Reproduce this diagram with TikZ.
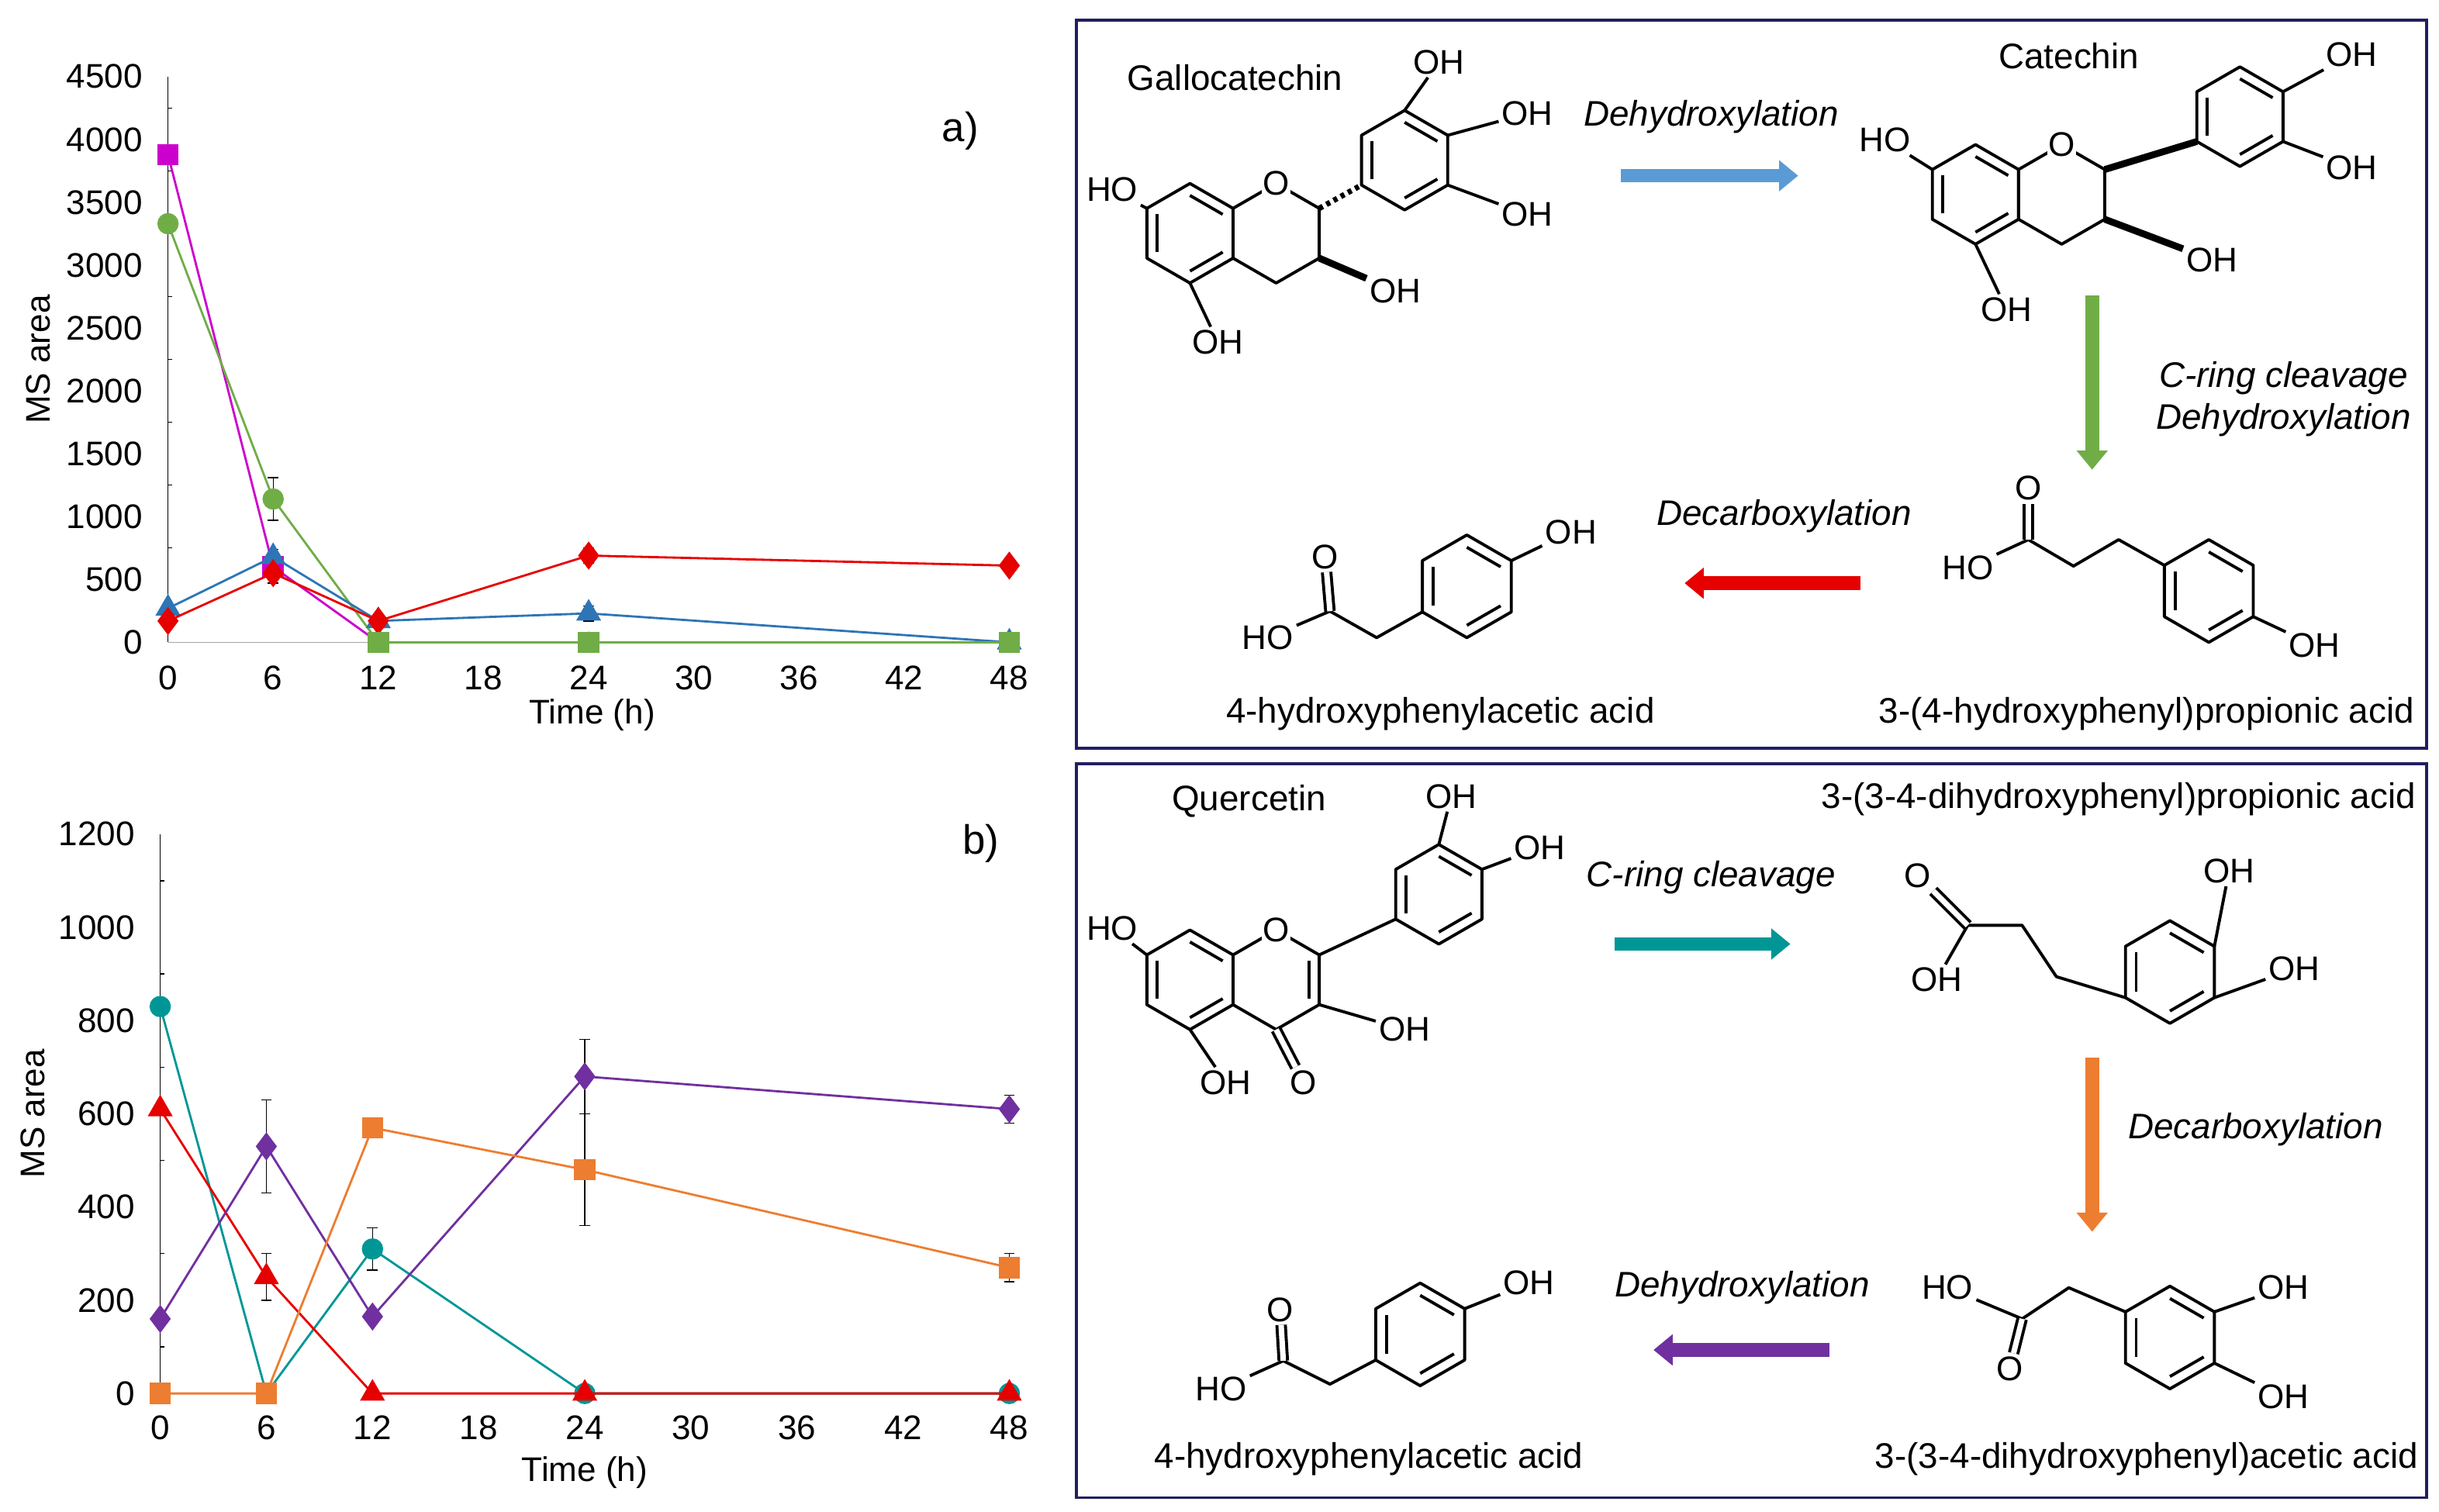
\documentclass[tikz,border=0pt]{standalone}
\usepackage{fontspec}
\setmainfont{Liberation Sans}
\usetikzlibrary{calc,arrows.meta,plotmarks}
\newcommand\ringat[4]{%
 \coordinate (#1c) at (#2,#3);
 \coordinate (#1t) at (#2,{#3-#4});
 \coordinate (#1ur) at ({#2+0.866*#4},{#3-0.5*#4});
 \coordinate (#1lr) at ({#2+0.866*#4},{#3+0.5*#4});
 \coordinate (#1b) at (#2,{#3+#4});
 \coordinate (#1ll) at ({#2-0.866*#4},{#3+0.5*#4});
 \coordinate (#1ul) at ({#2-0.866*#4},{#3-0.5*#4});
 \draw[bond] (#1t)--(#1ur)--(#1lr)--(#1b)--(#1ll)--(#1ul)--cycle;}
\newcommand\inb[3]{\draw[bond] ($(#1c)!0.76!(#1#2)$)--($(#1c)!0.76!(#1#3)$);}
\newcommand\arom[1]{\inb{#1}{t}{ur}\inb{#1}{lr}{b}\inb{#1}{ll}{ul}}
\newcommand\ebar[3]{\draw[black,thin] (#1,{#2-#3})--(#1,{#2+#3}) (#1-0.3,{#2-#3})--(#1+0.3,{#2-#3}) (#1-0.3,{#2+#3})--(#1+0.3,{#2+#3});}
\tikzset{bond/.style={line width=1.1pt,line join=round},
 lab/.style={inner sep=1pt,font=\fontsize{12.5}{14}\selectfont},
 nm/.style={font=\fontsize{13}{15}\selectfont},
 rx/.style={font=\fontsize{13}{15}\selectfont\itshape},
 tk/.style={font=\fontsize{12.5}{14}\selectfont},
 barrow/.style={line width=5pt,-{Triangle[width=11pt,length=7pt]}},
 dline/.style={line width=0.8pt}}
\definecolor{cmag}{RGB}{204,0,204}\definecolor{cgrn}{RGB}{112,173,71}
\definecolor{cblu}{RGB}{46,117,182}\definecolor{cred}{RGB}{230,0,0}
\definecolor{cteal}{RGB}{0,150,150}\definecolor{cpur}{RGB}{112,48,160}
\definecolor{corg}{RGB}{237,125,49}\definecolor{clb}{RGB}{91,155,213}
\definecolor{cbox}{RGB}{32,32,96}
\begin{document}
\begin{tikzpicture}[x=0.02cm,y=-0.02cm]
\useasboundingbox (0,0) rectangle (1568,972);
% ===== plot a
\begin{scope}[shift={(108,413)},x=0.2254cm,y=0.001616cm]
\draw[gray!70] (0,0)--(48,0);
\draw (0,0)--(0,4500);
\foreach \v in {0,500,...,4500}{\node[tk,anchor=east] at (-0.9,\v) {\v};}
\foreach \v in {250,750,...,4250}{\draw (0,\v)--(0.25,\v);}
\foreach \v in {0,6,...,48}{\node[tk,anchor=north] at (\v,-110) {\v};}
\node[tk] at (24.2,-580) {Time (h)};
\node[tk,rotate=90] at (-7.4,2250) {MS area};
\node[font=\fontsize{15}{17}\selectfont] at (45.2,4070) {a)};
\ebar{6}{1140}{170}\ebar{6}{550}{80}\ebar{24}{690}{60}\ebar{24}{230}{60}\ebar{6}{680}{60}
\draw[cmag,dline] plot[mark=square*,mark size=3.5pt] coordinates {(0,3880)(6,600)(12,0)};
\draw[cgrn,dline] plot[mark=*,mark size=3.5pt] coordinates {(0,3330)(6,1140)(12,0)(24,0)(48,0)};
\draw[cblu,dline] plot[mark=triangle*,mark size=4.5pt] coordinates {(0,270)(6,680)(12,170)(24,230)(48,0)};
\draw[cred,dline] plot[mark=diamond*,mark size=4.5pt] coordinates {(0,170)(6,550)(12,170)(24,690)(48,610)};
\draw[cgrn,dline] plot[mark=square*,mark size=3.5pt] coordinates {(12,0)(24,0)(48,0)};
\end{scope}
% ===== plot b
\begin{scope}[shift={(103,896)},x=0.2275cm,y=0.006cm]
\draw (0,0)--(0,1200);
\foreach \v in {0,200,...,1200}{\node[tk,anchor=east] at (-0.9,\v) {\v};}
\foreach \v in {100,300,...,1100}{\draw (0,\v)--(0.25,\v);}
\foreach \v in {0,6,...,48}{\node[tk,anchor=north] at (\v,-27) {\v};}
\node[tk] at (24,-170) {Time (h)};
\node[tk,rotate=90] at (-7.2,600) {MS area};
\node[font=\fontsize{15}{17}\selectfont] at (46.4,1180) {b)};
\ebar{6}{530}{100}\ebar{12}{310}{45}\ebar{6}{250}{50}\ebar{24}{680}{80}\ebar{24}{480}{120}\ebar{48}{610}{30}\ebar{48}{270}{30}
\draw[cteal,dline] plot[mark=*,mark size=3.5pt] coordinates {(0,830)(6,0)(12,310)(24,0)(48,0)};
\draw[cred,dline] plot[mark=triangle*,mark size=4.5pt] coordinates {(0,610)(6,250)(12,0)(24,0)(48,0)};
\draw[cpur,dline] plot[mark=diamond*,mark size=4.5pt] coordinates {(0,160)(6,530)(12,165)(24,680)(48,610)};
\draw[corg,dline] plot[mark=square*,mark size=3.5pt] coordinates {(0,0)(6,0)(12,570)(24,480)(48,270)};
\end{scope}
% ===== boxes
\draw[cbox,line width=1pt] (692,13) rectangle (1560,481);
\draw[cbox,line width=1pt] (692,491) rectangle (1560,963);
% ===== Gallocatechin
\node[nm] at (794,50) {Gallocatechin};
\ringat{ga}{765}{150}{32}\arom{ga}
\ringat{gc}{820.4}{150}{32}
\ringat{gb}{903}{103}{32}\arom{gb}
\node[lab,fill=white,inner sep=0.5pt] at (gct) {O};
\draw[bond,dash pattern=on 1.5pt off 1.5pt,line width=2pt] (gcur)--(gbll);
\node[lab] (g1) at (715,122) {HO}; \draw[bond] (gaul)--(g1);
\node[lab] (g2) at (783,220) {OH}; \draw[bond] (gab)--(g2);
\node[lab] (g3) at (897,187) {OH}; \draw[bond,line width=2.5pt] (gclr)--(g3);
\node[lab] (g4) at (925,40) {OH}; \draw[bond] (gbt)--(g4);
\node[lab] (g5) at (982,73) {OH}; \draw[bond] (gbur)--(g5);
\node[lab] (g6) at (982,138) {OH}; \draw[bond] (gblr)--(g6);
% ===== Catechin
\node[nm] at (1330,36) {Catechin};
\ringat{ca}{1270}{125}{32}\arom{ca}
\ringat{cc}{1325.4}{125}{32}
\ringat{cb}{1440}{75}{32}\arom{cb}
\node[lab,fill=white,inner sep=0.5pt] at (cct) {O};
\draw[bond,line width=2.5pt] (ccur)--(cbll);
\node[lab] (c1) at (1212,90) {HO}; \draw[bond] (caul)--(c1);
\node[lab] (c2) at (1290,199) {OH}; \draw[bond] (cab)--(c2);
\node[lab] (c3) at (1422,167) {OH}; \draw[bond,line width=2.5pt] (cclr)--(c3);
\node[lab] (c4) at (1512,35) {OH}; \draw[bond] (cbur)--(c4);
\node[lab] (c5) at (1512,108) {OH}; \draw[bond] (cblr)--(c5);
% ===== 4-HPAA (box 1)
\ringat{pa}{943}{377}{33}\arom{pa}
\coordinate (pa1) at (885,410); \coordinate (pa2) at (855,393);
\node[lab] (pao) at (852,358) {O}; \node[lab] (pah) at (815,410) {HO};
\node[lab] (paoh) at (1010,342) {OH};
\draw[bond] (pall)--(pa1)--(pa2)--(pah); \draw[bond,double,double distance=2pt] (pa2)--(pao);
\draw[bond] (paur)--(paoh);
\node[nm] at (926,459) {4-hydroxyphenylacetic acid};
% ===== 3-(4-HP)propionic
\ringat{pb}{1420}{380}{33}\arom{pb}
\coordinate (pb1) at (1362,347); \coordinate (pb2) at (1333,364); \coordinate (pb3) at (1304,347);
\node[lab] (pbo) at (1304,314) {O}; \node[lab] (pbh) at (1265,365) {HO};
\node[lab] (pboh) at (1488,415) {OH};
\draw[bond] (pbul)--(pb1)--(pb2)--(pb3)--(pbh); \draw[bond,double,double distance=2pt] (pb3)--(pbo);
\draw[bond] (pblr)--(pboh);
\node[nm] at (1380,459) {3-(4-hydroxyphenyl)propionic acid};
% ===== Quercetin
\node[nm] at (803,515) {Quercetin};
\ringat{qa}{765}{630}{32}\arom{qa}
\ringat{qc}{820.4}{630}{32}\inb{qc}{ur}{lr}
\ringat{qb}{925}{575}{32}\arom{qb}
\node[lab,fill=white,inner sep=0.5pt] at (qct) {O};
\draw[bond] (qcur)--(qbll);
\node[lab] (q1) at (715,597) {HO}; \draw[bond] (qaul)--(q1);
\node[lab] (q2) at (788,696) {OH}; \draw[bond] (qab)--(q2);
\node[lab] (q3) at (903,662) {OH}; \draw[bond] (qclr)--(q3);
\node[lab] (q4) at (838,696) {O}; \draw[bond,double,double distance=2pt] (qcb)--(q4);
\node[lab] (q5) at (933,512) {OH}; \draw[bond] (qbt)--(q5);
\node[lab] (q6) at (990,545) {OH}; \draw[bond] (qbur)--(q6);
% ===== DHPPA
\node[nm] at (1362,514) {3-(3-4-dihydroxyphenyl)propionic acid};
\ringat{pc}{1395}{625}{33}\arom{pc}
\coordinate (pc1) at (1322,628); \coordinate (pc2) at (1300,595); \coordinate (pc3) at (1265,595);
\node[lab] (pco) at (1233,563) {O}; \node[lab] (pch) at (1245,630) {OH};
\node[lab] (pcoh1) at (1433,560) {OH}; \node[lab] (pcoh2) at (1475,623) {OH};
\draw[bond] (pcll)--(pc1)--(pc2)--(pc3)--(pch); \draw[bond,double,double distance=2pt] (pc3)--(pco);
\draw[bond] (pcur)--(pcoh1); \draw[bond] (pclr)--(pcoh2);
% ===== DHPAA
\ringat{pd}{1395}{860}{33}\arom{pd}
\coordinate (pd1) at (1330,828); \coordinate (pd2) at (1300,848);
\node[lab] (pdo) at (1292,880) {O}; \node[lab] (pdh) at (1252,828) {HO};
\node[lab] (pdoh1) at (1468,828) {OH}; \node[lab] (pdoh2) at (1468,898) {OH};
\draw[bond] (pdul)--(pd1)--(pd2)--(pdh); \draw[bond,double,double distance=2pt] (pd2)--(pdo);
\draw[bond] (pdur)--(pdoh1); \draw[bond] (pdlr)--(pdoh2);
\node[nm] at (1380,938) {3-(3-4-dihydroxyphenyl)acetic acid};
% ===== 4-HPAA (box 2)
\ringat{pe}{913}{858}{33}\arom{pe}
\coordinate (pe1) at (855,890); \coordinate (pe2) at (825,875);
\node[lab] (peo) at (823,842) {O}; \node[lab] (peh) at (785,893) {HO};
\node[lab] (peoh) at (983,825) {OH};
\draw[bond] (pell)--(pe1)--(pe2)--(peh); \draw[bond,double,double distance=2pt] (pe2)--(peo);
\draw[bond] (peur)--(peoh);
\node[nm] at (880,938) {4-hydroxyphenylacetic acid};
% ===== reaction arrows
\coordinate (r1a) at (1042,113); \coordinate (r1b) at (1156,113);
\draw[barrow,clb] (r1a)--(r1b); \node[rx] at (1100,75) {Dehydroxylation};
\coordinate (r2a) at (1345,190); \coordinate (r2b) at (1345,302);
\draw[barrow,cgrn] (r2a)--(r2b);
\node[rx] at (1468,243) {C-ring cleavage}; \node[rx] at (1468,270) {Dehydroxylation};
\coordinate (r3a) at (1196,375); \coordinate (r3b) at (1083,375);
\draw[barrow,cred] (r3a)--(r3b); \node[rx] at (1147,332) {Decarboxylation};
\coordinate (r4a) at (1038,607); \coordinate (r4b) at (1151,607);
\draw[barrow,cteal] (r4a)--(r4b); \node[rx] at (1100,564) {C-ring cleavage};
\coordinate (r5a) at (1345,680); \coordinate (r5b) at (1345,792);
\draw[barrow,corg] (r5a)--(r5b); \node[rx] at (1450,726) {Decarboxylation};
\coordinate (r6a) at (1176,868); \coordinate (r6b) at (1063,868);
\draw[barrow,cpur] (r6a)--(r6b); \node[rx] at (1120,828) {Dehydroxylation};
\end{tikzpicture}
\end{document}
